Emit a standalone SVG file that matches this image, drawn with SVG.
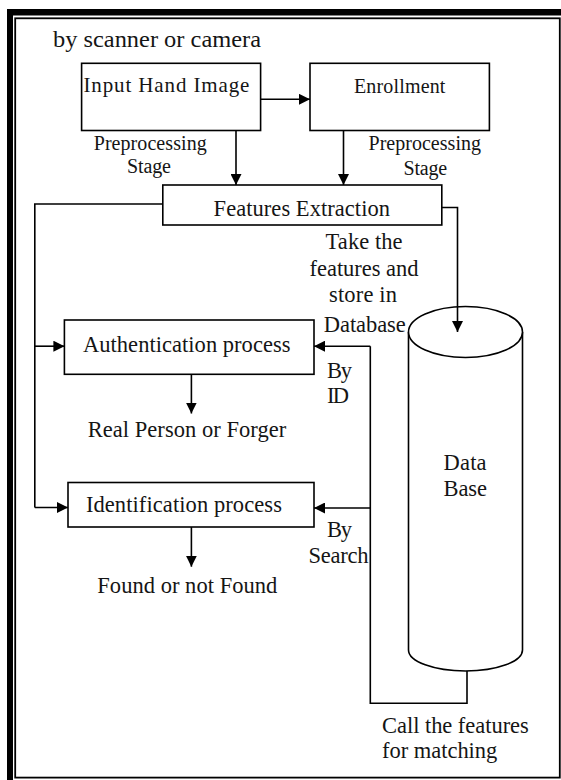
<svg xmlns="http://www.w3.org/2000/svg" width="561" height="780" viewBox="0 0 561 780">
<style>
text{font-family:"Liberation Serif","Times New Roman",serif;fill:#151515;}
.box{fill:#fff;stroke:#000;stroke-width:1.6;}
.ln{fill:none;stroke:#000;stroke-width:1.6;}
.arr{fill:none;stroke:#000;stroke-width:1.6;marker-end:url(#ah);}
.t22{font-size:22.5px;}
.t20{font-size:20px;}
</style>
<defs>
<marker id="ah" viewBox="0 0 10 10" refX="10" refY="5" markerWidth="11" markerHeight="11" markerUnits="userSpaceOnUse" orient="auto">
<path d="M0,0 L10,5 L0,10 z" fill="#000"/>
</marker>
</defs>
<rect width="561" height="780" fill="#fff"/>
<g id="frame">
<rect x="7" y="9" width="554" height="6.5" fill="#000"/>
<rect x="7" y="9" width="6" height="771" fill="#000"/>
<rect x="15.2" y="18.3" width="544.6" height="759.3" fill="none" stroke="#000" stroke-width="1.8"/>
</g>
<g id="input">
<rect class="box" x="81.6" y="63.3" width="179" height="67.2"/>
<text x="83.4" y="92" font-size="21" textLength="166">Input Hand Image</text>
</g>
<g id="enrollment">
<rect class="box" x="310" y="63.3" width="179.4" height="67.2"/>
<text class="t20" x="354" y="92.5" textLength="91.4">Enrollment</text>
</g>
<g id="features">
<rect class="box" x="162.8" y="185" width="279" height="40"/>
<text class="t22" x="213.6" y="216" textLength="176.4">Features Extraction</text>
</g>
<g id="authentication">
<rect class="box" x="64.4" y="320" width="249.6" height="54.3"/>
<text class="t22" x="83" y="351.7" textLength="207.5">Authentication process</text>
</g>
<g id="identification">
<rect class="box" x="68" y="482.5" width="246" height="44.5"/>
<text class="t22" x="85.9" y="511.7" textLength="196">Identification process</text>
</g>
<g id="database">
<path class="box" d="M408.5,332 V650 A57,21 0 0 0 522.5,650 V332"/>
<ellipse class="box" cx="465.5" cy="332" rx="57" ry="25.5"/>
<text class="t22" x="443.6" y="470" textLength="43">Data</text>
<text class="t22" x="443.6" y="496" textLength="43.4">Base</text>
</g>
<g id="connectors">
<path class="arr" d="M261,99.3 H310"/>
<path class="arr" d="M236,130.5 V185"/>
<path class="arr" d="M343.5,130.5 V185"/>
<path class="ln" d="M162.8,204 H34.8 V507.5"/>
<path class="arr" d="M34.8,346.2 H64.4"/>
<path class="arr" d="M34.8,507.5 H68"/>
<path class="arr" d="M441.8,207.5 H457.5 V332"/>
<path class="ln" d="M467,671 V703.3 H370.3 V346.2"/>
<path class="arr" d="M370.3,346.2 H314"/>
<path class="arr" d="M370.3,508 H314"/>
<path class="arr" d="M191.4,374.3 V413.5"/>
<path class="arr" d="M191.4,527 V566.7"/>
<text class="t22" x="53" y="46.5" textLength="208" lengthAdjust="spacingAndGlyphs">by scanner or camera</text>
<text class="t20" x="93.7" y="149.5" textLength="113">Preprocessing</text>
<text class="t20" x="127" y="173" textLength="44">Stage</text>
<text class="t20" x="368.5" y="150" textLength="112.5">Preprocessing</text>
<text class="t20" x="403.6" y="174.5" textLength="43.6">Stage</text>
<text class="t22" x="325.6" y="249.3" textLength="77">Take the</text>
<text class="t22" x="309.5" y="275.5" textLength="109">features and</text>
<text class="t22" x="329" y="302" textLength="68">store in</text>
<text class="t22" x="323.8" y="331.7" textLength="82">Database</text>
<text class="t22" x="327" y="378" textLength="25">By</text>
<text class="t22" x="327" y="403.3" textLength="22">ID</text>
<text class="t22" x="87.7" y="436.7" textLength="198.5">Real Person or Forger</text>
<text class="t22" x="327" y="537" textLength="25">By</text>
<text class="t22" x="308.4" y="563" textLength="60">Search</text>
<text class="t22" x="97.3" y="592.5" textLength="180">Found or not Found</text>
<text class="t22" x="382" y="732.7" textLength="146.8">Call the features</text>
<text class="t22" x="382" y="758.3" textLength="115.3">for matching</text>
</g>
</svg>
